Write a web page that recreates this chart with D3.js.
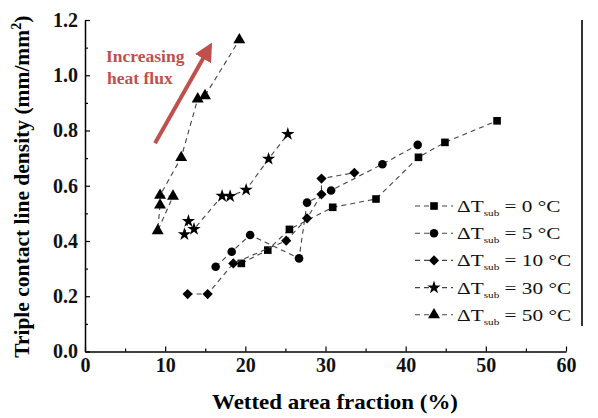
<!DOCTYPE html>
<html>
<head>
<meta charset="utf-8">
<script src="https://cdn.jsdelivr.net/npm/d3@7"></script>
<style>
  body { margin: 0; background: #fff; }
  svg { display: block; }
</style>
</head>
<body>
<svg id="chart" width="598" height="418"></svg>
<script>
// ---- data -------------------------------------------------------------
const xTicks = [0, 10, 20, 30, 40, 50, 60];
const yTicks = [0.0, 0.2, 0.4, 0.6, 0.8, 1.0, 1.2];
const subcoolings = [0, 5, 10, 30, 50];            // ΔT_sub, °C

// wetted area fraction (%) / triple contact line density (mm/mm²)
const wetted0  = [19.5, 22.8, 25.5, 30.9, 36.3, 41.6, 44.9, 51.4];
const density0 = [0.319, 0.367, 0.442, 0.522, 0.552, 0.703, 0.757, 0.835];

const wetted5  = [16.3, 18.3, 20.6, 26.7, 27.7, 30.7, 37.1, 41.5];
const density5 = [0.307, 0.361, 0.422, 0.337, 0.539, 0.583, 0.678, 0.748];

const wetted10  = [12.8, 15.3, 18.5, 25.1, 27.7, 29.5, 29.5, 33.6];
const density10 = [0.208, 0.208, 0.319, 0.401, 0.482, 0.569, 0.626, 0.647];

const wetted30  = [12.4, 12.9, 13.6, 17.1, 18.1, 20.1, 22.9, 25.3];
const density30 = [0.424, 0.472, 0.443, 0.563, 0.562, 0.585, 0.697, 0.787];

const wetted50  = [9.36, 9.07, 10.98, 9.36, 12.0, 14.06, 14.97, 19.25];
const density50 = [0.530, 0.437, 0.562, 0.565, 0.702, 0.914, 0.926, 1.128];

// ---- layout -----------------------------------------------------------
const svg = d3.select("#chart");
const x = d3.scaleLinear().domain([0, 60]).range([85, 566]);
const y = d3.scaleLinear().domain([0, 1.2]).range([351.5, 20]);
const serif = "'Liberation Serif', 'Times New Roman', serif";

const series = [
  { label: subcoolings[0], xs: wetted0,  ys: density0,  shape: "square"  },
  { label: subcoolings[1], xs: wetted5,  ys: density5,  shape: "circle"  },
  { label: subcoolings[2], xs: wetted10, ys: density10, shape: "diamond" },
  { label: subcoolings[3], xs: wetted30, ys: density30, shape: "star"    },
  { label: subcoolings[4], xs: wetted50, ys: density50, shape: "triangle"}
];

function markerPath(shape) {
  switch (shape) {
    case "square":   return d3.symbol(d3.symbolSquare, 58)();
    case "circle":   return d3.symbol(d3.symbolCircle, 58)();
    case "diamond":  return d3.symbol(d3.symbolSquare, 52)();
    case "star":     return d3.symbol(d3.symbolStar, 55)();
    case "triangle": return d3.symbol(d3.symbolTriangle, 62)();
  }
}
function markerTransform(shape, px, py) {
  return shape === "diamond"
    ? `translate(${px},${py}) rotate(45)`
    : `translate(${px},${py})`;
}

// ---- axes -------------------------------------------------------------
svg.append("g").attr("transform", `translate(0,${y(0)})`)
  .call(d3.axisBottom(x).tickValues(xTicks).tickSize(-5).tickSizeOuter(0)
        .tickPadding(6).tickFormat(d3.format("d")));
svg.append("g").attr("transform", `translate(0,${y(0)})`)
  .call(d3.axisBottom(x).tickValues(d3.range(5, 60, 10)).tickSize(-3)
        .tickSizeOuter(0).tickFormat(""))
  .call(g => g.select(".domain").remove());

svg.append("g").attr("transform", `translate(${x(0)},0)`)
  .call(d3.axisLeft(y).tickValues(yTicks).tickSize(-5).tickSizeOuter(0)
        .tickPadding(7).tickFormat(d3.format(".1f")));
svg.append("g").attr("transform", `translate(${x(0)},0)`)
  .call(d3.axisLeft(y).tickValues(d3.range(0.1, 1.2, 0.2)).tickSize(-3)
        .tickSizeOuter(0).tickFormat(""))
  .call(g => g.select(".domain").remove());

svg.selectAll(".domain").attr("stroke", "#000").attr("stroke-width", 1.5);
svg.selectAll(".tick line").attr("stroke", "#000").attr("stroke-width", 1.2);
svg.selectAll(".tick text")
  .attr("font-family", serif).attr("font-weight", "bold")
  .attr("font-size", 20).attr("fill", "#111");

// closing line at the right-hand side
svg.append("line")
  .attr("x1", 582).attr("x2", 582).attr("y1", y(1.2)).attr("y2", 326)
  .attr("stroke", "#000").attr("stroke-width", 1.6);

// axis titles
svg.append("text")
  .attr("x", 335).attr("y", 409)
  .attr("text-anchor", "middle")
  .attr("font-family", serif).attr("font-weight", "bold").attr("font-size", 21)
  .attr("textLength", 246).attr("lengthAdjust", "spacingAndGlyphs")
  .text("Wetted area fraction (%)");

const yTitle = svg.append("text")
  .attr("transform", `translate(29,${(y(0) + y(1.2)) / 2 + 1}) rotate(-90)`)
  .attr("text-anchor", "middle")
  .attr("font-family", serif).attr("font-weight", "bold").attr("font-size", 21.5);
yTitle.append("tspan").text("Triple contact line density (mm/mm");
yTitle.append("tspan").attr("dy", -8).attr("font-size", 14).text("2");
yTitle.append("tspan").attr("dy", 8).text(")");

// ---- series -----------------------------------------------------------
const line = d3.line().x(d => x(d[0])).y(d => y(d[1]));
series.forEach(s => {
  const pts = s.xs.map((v, i) => [v, s.ys[i]]);
  svg.append("path").datum(pts)
    .attr("d", line).attr("fill", "none")
    .attr("stroke", "#444").attr("stroke-width", 1.1)
    .attr("stroke-dasharray", "5,4");
  svg.append("g").selectAll("path").data(pts).join("path")
    .attr("d", markerPath(s.shape))
    .attr("transform", d => markerTransform(s.shape, x(d[0]), y(d[1])))
    .attr("fill", "#000");
});

// ---- heat-flux annotation --------------------------------------------
const red = "#c0504d";
svg.append("defs").append("marker")
  .attr("id", "head").attr("viewBox", "0 0 10 10")
  .attr("refX", 6).attr("refY", 5)
  .attr("markerWidth", 4.6).attr("markerHeight", 4.6)
  .attr("orient", "auto")
  .append("path").attr("d", "M0,0 L10,5 L0,10 Z").attr("fill", red);
svg.append("line")
  .attr("x1", x(8.73)).attr("y1", y(0.754))
  .attr("x2", x(15.4)).attr("y2", y(1.095))
  .attr("stroke", red).attr("stroke-width", 4)
  .attr("marker-end", "url(#head)");
svg.append("text").attr("x", 106).attr("y", 62)
  .attr("font-family", serif).attr("font-weight", "bold").attr("font-size", 17.5)
  .attr("fill", red).text("Increasing");
svg.append("text").attr("x", 107).attr("y", 84)
  .attr("font-family", serif).attr("font-weight", "bold").attr("font-size", 17.5)
  .attr("fill", red).text("heat flux");

// ---- legend -----------------------------------------------------------
const legend = svg.append("g");
series.forEach((s, i) => {
  const ly = 206 + i * 27.2;
  legend.append("line")
    .attr("x1", 415).attr("x2", 453).attr("y1", ly).attr("y2", ly)
    .attr("stroke", "#444").attr("stroke-width", 1.1)
    .attr("stroke-dasharray", "5,4");
  legend.append("path")
    .attr("d", markerPath(s.shape))
    .attr("transform", markerTransform(s.shape, 434, ly))
    .attr("fill", "#000");
  const t = legend.append("text")
    .attr("transform", `translate(457,${ly + 6}) scale(1.25,1)`)
    .attr("font-family", serif).attr("font-size", 17).attr("fill", "#111");
  t.append("tspan").text("ΔT");
  t.append("tspan").attr("dy", 4).attr("font-size", 9).text("sub");
  t.append("tspan").attr("dy", -4).text(` = ${s.label} °C`);
});
</script>
</body>
</html>
